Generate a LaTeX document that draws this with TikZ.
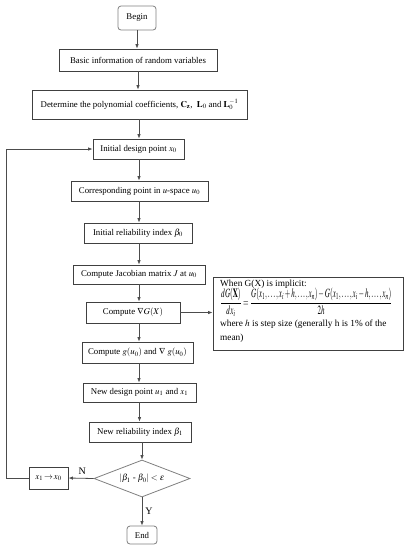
\documentclass[tikz,border=0pt]{standalone}
\usepackage{mathptmx}
\usepackage{fontspec}
\setmainfont{Liberation Serif}
\usepackage{amsmath}
\usepackage{graphicx}
\usetikzlibrary{shapes.geometric,arrows.meta}
\begin{document}
\begin{tikzpicture}[x=1pt,y=-1pt,
  box/.style={draw=black!75,line width=0.8pt,inner sep=0pt,font=\fontsize{8.8}{10}\selectfont,minimum width=#1},
  term/.style={draw=black!50,line width=0.8pt,rounded corners=3pt,inner sep=0pt,font=\fontsize{8.8}{10}\selectfont},
  arr/.style={draw=black!70,line width=0.8pt,-{Latex[length=4.5pt,width=3.5pt]}},
  lbl/.style={font=\fontsize{10}{12}\selectfont,inner sep=0pt}]
\useasboundingbox (0,0) rectangle (407,550);
\fill[white] (0,0) rectangle (407,550);
\coordinate (col) at (139,0);
\node[term,minimum width=38pt,minimum height=24pt] (begin) at (137,18) {Begin};
\node[box=158pt,minimum height=22pt] (basic) at (138,60) {Basic information of random variables};
\node[box=215pt,minimum height=29pt] (det) at (139.5,104.5) {Determine the polynomial coefficients, $\mathbf{C}_{\mathbf{z}}$,\ \ $\mathbf{L}_0$ and $\mathbf{L}_0^{-1}$};
\node[box=91pt,minimum height=20pt] (init) at (138.5,149) {Initial design point $x_{\mathrm{0}}$};
\node[box=137pt,minimum height=20pt] (corr) at (139.5,191) {Corresponding point in $u$-space $u_{\mathrm{0}}$};
\node[box=108pt,minimum height=20pt] (irel) at (138,233) {Initial reliability index $\beta_{\mathrm{0}}$};
\node[box=132pt,minimum height=19pt] (jac) at (139,274.5) {Compute Jacobian matrix $J$ at $u_0$};
\node[box=94pt,minimum height=21pt] (cG) at (133,312.5) {Compute $\nabla G(X)$};
\node[draw=black!75,line width=0.8pt,minimum width=190pt,minimum height=73pt,inner sep=0pt] (side) at (308,313.5) {};
\node[anchor=north west,inner sep=0pt,align=left,font=\fontsize{9.3}{13}\selectfont] (sidetxt) at (220,279.5) {When G(X) is implicit:\\[-1pt]
\resizebox{172pt}{18pt}{$\dfrac{dG(\mathbf{X})}{dx_i}=\dfrac{G(x_1,\ldots,x_i+h,\ldots,x_n)-G(x_1,\ldots,x_i-h,\ldots,x_n)}{2h}$}\\[2pt]
where $h$ is step size (generally h is 1\% of the\\[1pt] mean)};
\node[box=111pt,minimum height=21pt] (cg) at (137.5,352.5) {Compute $g(u_{\mathrm{0}})$ and $\nabla$ $g(u_{\mathrm{0}})$};
\node[box=113pt,minimum height=19pt] (nd) at (139.5,392.5) {New design point $u_{\mathrm{1}}$ and $x_{\mathrm{1}}$};
\node[box=102pt,minimum height=20pt] (nrel) at (140,432) {New reliability index $\beta_{\mathrm{1}}$};
\node[draw=black!50,line width=0.8pt,diamond,shape aspect=2.6,minimum width=96pt,minimum height=37pt,inner sep=0pt,font=\fontsize{8.8}{10}\selectfont] (dec) at (142,478.5) {$|\beta_{\mathrm{1}}$ - $\beta_{\mathrm{0}}|<\varepsilon$};
\node[box=39pt,minimum height=22pt] (swap) at (48.5,478) {$x_{\mathrm{1}}\!\rightarrow\! x_{\mathrm{0}}$};
\node[term,minimum width=30pt,minimum height=18pt] (end) at (142,535) {End};
% arrows
\draw[arr] (begin.south) -- (begin.south |- basic.north);
\draw[arr] (basic.south) -- (basic.south |- det.north);
\draw[arr] (col |- det.south) -- (col |- init.north);
\draw[arr] (col |- init.south) -- (col |- corr.north);
\draw[arr] (col |- corr.south) -- (col |- irel.north);
\draw[arr] (col |- irel.south) -- (col |- jac.north);
\draw[arr] (col |- jac.south) -- (col |- cG.north);
\draw[arr] (col |- cG.south) -- (col |- cg.north);
\draw[arr] (col |- cg.south) -- (col |- nd.north);
\draw[arr] (nd.south) -- (nd.south |- nrel.north);
\draw[arr] (dec.north |- nrel.south) -- (dec.north);
\draw[arr] (cG.east) -- (cG.east -| side.west);
\draw[arr] (dec.west) -- (swap.east) node[lbl,pos=0.45,above=3pt] {N};
\draw[arr] (dec.south) -- (end.north) node[lbl,pos=0.5,right=3pt] {Y};
\draw[arr] (swap.west) -- ++(-22,0) |- (init.west);
\end{tikzpicture}
\end{document}
